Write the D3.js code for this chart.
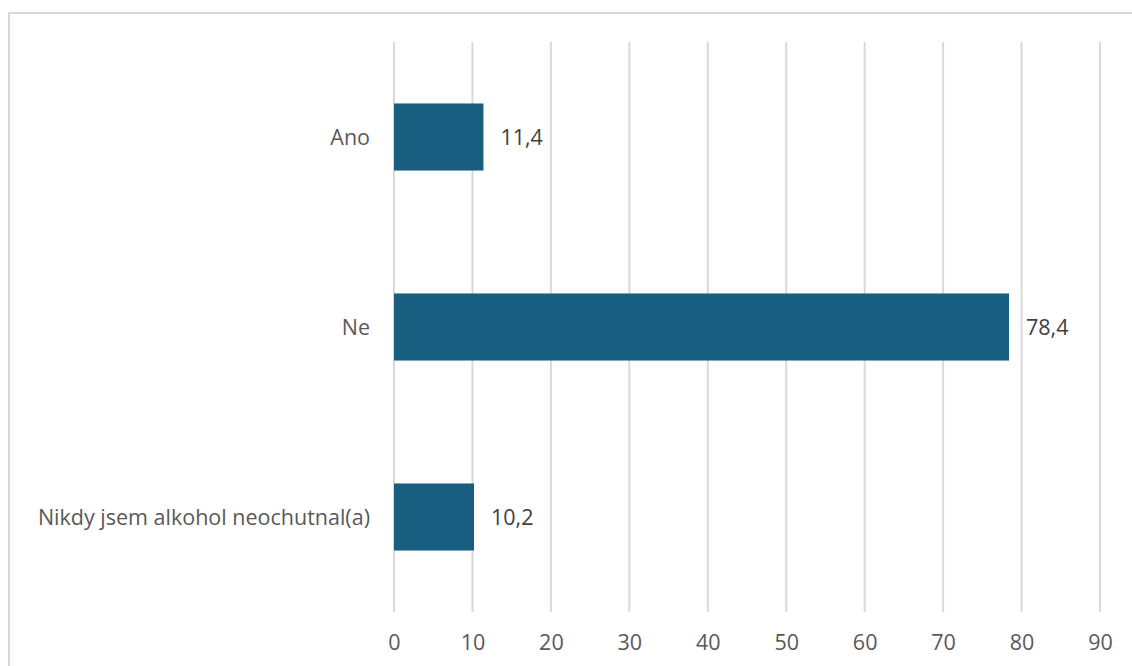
<!DOCTYPE html>
<html><head><meta charset="utf-8">
<script src="https://cdn.jsdelivr.net/npm/d3@7"></script>
<style>html,body{margin:0;padding:0;background:#fff;}</style>
</head><body>
<script>
const categories = ["Ano", "Ne", "Nikdy jsem alkohol neochutnal(a)"];
const values = [11.4, 78.4, 10.2];
const valueLabels = ["11,4", "78,4", "10,2"];
const ticks = [0, 10, 20, 30, 40, 50, 60, 70, 80, 90];

const W = 1132, H = 666;
const svg = d3.select("body").append("svg").attr("width", W).attr("height", H);
const font = "'Open Sans', 'Noto Sans', sans-serif";
const fs = 21.5;

svg.append("rect").attr("x", 9).attr("y", 13).attr("width", W + 10).attr("height", H + 10)
  .attr("fill", "#fff").attr("stroke", "#d9d9d9").attr("stroke-width", 2);

const x = d3.scaleLinear().domain([0, 90]).range([394, 1100]);
const y = d3.scaleBand().domain(categories).range([42, 612]).paddingInner(0.647).paddingOuter(0.3235);

const g = svg.append("g");
g.selectAll("line.grid").data(ticks).join("line").attr("class", "grid")
  .attr("x1", d => x(d)).attr("x2", d => x(d)).attr("y1", 42).attr("y2", 612)
  .attr("stroke", "#d9d9d9").attr("stroke-width", 2);

g.selectAll("rect.bar").data(values).join("rect").attr("class", "bar")
  .attr("x", x(0)).attr("y", (d, i) => y(categories[i]))
  .attr("width", d => x(d) - x(0)).attr("height", y.bandwidth())
  .attr("fill", "#175e80");

g.selectAll("text.val").data(values).join("text").attr("class", "val")
  .attr("x", d => x(d) + 17).attr("y", (d, i) => y(categories[i]) + y.bandwidth() / 2)
  .attr("dy", "0.35em").attr("font-family", font).attr("font-size", fs).attr("fill", "#404040")
  .text((d, i) => valueLabels[i]);

g.selectAll("text.cat").data(categories).join("text").attr("class", "cat")
  .attr("x", 370).attr("y", d => y(d) + y.bandwidth() / 2)
  .attr("dy", "0.35em").attr("text-anchor", "end").attr("font-family", font).attr("font-size", fs)
  .attr("fill", "#595959").text(d => d);

const xAxis = d3.axisBottom(x).tickValues(ticks).tickSize(0).tickPadding(0);
const ax = svg.append("g").attr("transform", "translate(0,642)").call(xAxis);
ax.select(".domain").remove();
ax.selectAll("text").attr("dy", "0.35em").attr("font-family", font).attr("font-size", fs).attr("fill", "#595959");
</script>
</body></html>
